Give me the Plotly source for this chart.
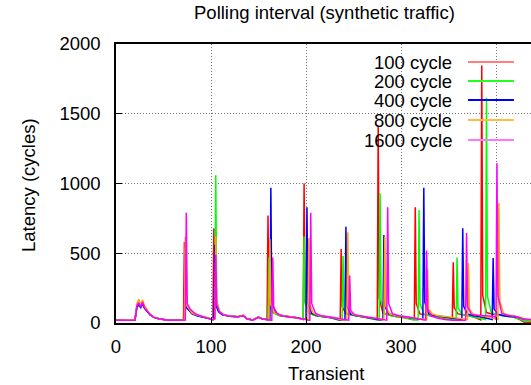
import plotly.graph_objects as go

# ---------------- data ----------------
series_names = ["100 cycle", "200 cycle", "400 cycle", "800 cycle", "1600 cycle"]

hump_x = [0, 20, 22, 24, 26, 28, 30, 33, 36, 40, 45, 55]

red_x = (hump_x
         + [70, 71, 72, 73, 76, 80, 86, 92, 98]
         + [102, 103, 104, 108, 112, 120, 128, 134, 138, 144, 150, 154, 157]
         + [159, 160, 161, 165, 172, 180, 188, 194]
         + [197, 198, 199, 203, 210, 218, 226, 233]
         + [236, 237, 238, 242, 250, 258, 266, 273]
         + [275, 276, 277, 281, 288, 296, 304, 312]
         + [314, 315, 316, 320, 328, 336, 344, 352]
         + [354, 355, 356, 360, 368, 376, 382]
         + [384, 385, 386, 390, 398, 406, 414, 420, 425, 430, 437])
red_y = ([20, 22, 120, 140, 115, 145, 110, 85, 60, 40, 30, 20]
         + [20, 22, 580, 130, 100, 70, 55, 45, 32]
         + [25, 680, 150, 85, 60, 50, 45, 55, 30, 22, 40, 30, 25]
         + [25, 770, 150, 75, 55, 48, 42, 32]
         + [25, 1000, 160, 70, 55, 45, 40, 25]
         + [22, 530, 120, 65, 55, 45, 38, 25]
         + [25, 1415, 180, 70, 55, 45, 38, 25]
         + [25, 830, 140, 65, 55, 48, 40, 28]
         + [25, 435, 110, 65, 55, 45, 28]
         + [22, 1845, 200, 75, 60, 55, 48, 40, 25, 5, 5])

green_x = (hump_x
           + [70, 72, 73, 74, 77, 80, 86, 92, 98]
           + [103, 104, 105, 106, 109, 113, 120, 128, 134, 138, 144, 150, 154, 158]
           + [160, 161, 162, 166, 172, 180, 188, 195]
           + [197, 198, 199, 203, 210, 218, 226, 234]
           + [238, 239, 240, 244, 250, 258, 266, 275]
           + [277, 278, 279, 283, 290, 298, 306, 314]
           + [318, 319, 320, 324, 330, 338, 346, 356]
           + [358, 359, 360, 364, 370, 378, 386]
           + [389, 390, 391, 395, 402, 410, 418, 425, 431, 437])
green_y = ([20, 22, 110, 135, 120, 140, 115, 85, 60, 40, 30, 20]
           + [20, 22, 540, 120, 95, 68, 52, 42, 30]
           + [25, 30, 1060, 160, 80, 58, 48, 44, 52, 30, 22, 42, 30, 25]
           + [25, 470, 120, 70, 52, 45, 40, 30]
           + [25, 620, 140, 68, 52, 45, 38, 22]
           + [22, 480, 110, 62, 52, 44, 36, 22]
           + [25, 930, 160, 68, 52, 44, 36, 22]
           + [22, 810, 140, 65, 52, 46, 38, 25]
           + [22, 470, 110, 62, 52, 44, 30]
           + [25, 1615, 190, 75, 58, 50, 42, 28, 10, 12])

blue_x = (hump_x
          + [70, 72, 73, 74, 77, 80, 86, 92, 98]
          + [102, 103, 104, 105, 108, 112, 120, 128, 134, 138, 144, 150, 154, 159]
          + [162, 163, 164, 168, 174, 182, 190, 196]
          + [200, 201, 202, 206, 212, 220, 228, 236]
          + [241, 242, 243, 247, 253, 261, 269, 278]
          + [281, 282, 283, 287, 294, 302, 310, 318]
          + [323, 324, 325, 329, 335, 343, 351, 359]
          + [364, 365, 366, 370, 376, 384, 392]
          + [396, 397, 398, 402, 408, 416, 424, 430, 437])
blue_y = ([20, 22, 115, 130, 110, 135, 105, 80, 58, 40, 30, 20]
          + [20, 22, 500, 110, 90, 65, 50, 40, 30]
          + [25, 30, 560, 130, 80, 58, 48, 44, 52, 30, 22, 42, 30, 25]
          + [25, 970, 150, 72, 52, 44, 38, 28]
          + [25, 830, 140, 68, 52, 44, 36, 22]
          + [22, 690, 120, 64, 52, 44, 36, 22]
          + [25, 630, 120, 66, 52, 44, 36, 28]
          + [25, 970, 150, 66, 54, 46, 40, 30]
          + [25, 680, 120, 64, 52, 44, 34]
          + [25, 465, 100, 62, 52, 46, 40, 25, 20])

orange_x = (hump_x
            + [70, 72, 73, 74, 77, 80, 86, 92, 98]
            + [103, 104, 105, 106, 109, 113, 120, 128, 134, 138, 144, 150, 154, 159]
            + [161, 162, 163, 167, 173, 181, 189, 196]
            + [202, 203, 204, 208, 214, 222, 230, 238]
            + [243, 244, 245, 249, 255, 263, 271, 281]
            + [282, 283, 284, 288, 295, 303, 311, 326]
            + [327, 328, 329, 333, 339, 347, 355, 369]
            + [370, 371, 372, 376, 382, 390, 400]
            + [402, 403, 404, 408, 414, 420, 426, 432, 437])
orange_y = ([20, 25, 140, 170, 130, 165, 125, 90, 62, 42, 30, 20]
            + [20, 22, 620, 130, 100, 70, 55, 45, 32]
            + [25, 30, 620, 150, 85, 60, 50, 45, 55, 30, 22, 42, 30, 25]
            + [25, 600, 130, 72, 55, 46, 40, 28]
            + [25, 610, 130, 68, 52, 44, 36, 22]
            + [22, 650, 120, 64, 52, 44, 36, 22]
            + [25, 620, 120, 66, 52, 44, 36, 25]
            + [25, 385, 100, 64, 52, 46, 40, 25]
            + [25, 430, 100, 62, 52, 44, 28]
            + [25, 860, 160, 68, 55, 48, 40, 25, 20])

magenta_x = (hump_x
             + [70, 73, 74, 75, 78, 82, 86, 92, 98]
             + [102, 104, 105, 106, 109, 113, 120, 128, 134, 138, 144, 150, 154, 163]
             + [164, 165, 166, 170, 176, 184, 192, 203]
             + [204, 205, 206, 210, 216, 224, 232, 244]
             + [245, 246, 247, 251, 257, 265, 273, 284]
             + [285, 286, 287, 291, 298, 306, 314, 325]
             + [326, 327, 328, 332, 338, 346, 354, 367]
             + [368, 369, 370, 374, 380, 390, 399]
             + [400, 401, 402, 406, 412, 420, 428, 437])
magenta_y = ([20, 22, 125, 145, 115, 150, 110, 85, 60, 40, 30, 20]
             + [20, 22, 790, 140, 100, 75, 58, 45, 32]
             + [22, 30, 490, 130, 80, 58, 48, 44, 54, 28, 20, 40, 28, 20]
             + [20, 470, 110, 65, 50, 42, 36, 20]
             + [20, 790, 140, 68, 52, 44, 36, 20]
             + [20, 340, 90, 60, 50, 42, 35, 20]
             + [20, 830, 140, 66, 52, 44, 36, 20]
             + [20, 520, 100, 50, 35, 25, 20, 20]
             + [20, 645, 120, 62, 55, 52, 45]
             + [25, 1145, 200, 70, 55, 48, 30, 25])

x_ticks = [0, 100, 200, 300, 400]
y_ticks = [0, 500, 1000, 1500, 2000]

line_colors = ["#ff0000", "#00ff00", "#0000ff", "#ffa500", "#ff00ff"]
legend_colors = ["#ff7f7f", "#22ff22", "#0000ff", "#ffbb44", "#ff77ff"]

xs = [red_x, green_x, blue_x, orange_x, magenta_x]
ys = [red_y, green_y, blue_y, orange_y, magenta_y]
for a, b in zip(xs, ys):
    assert len(a) == len(b), (len(a), len(b))

# ---------------- figure ----------------
W, H = 531, 385
L, R, T, B = 116, 0, 44, 62
PW, PH = W - L - R, H - T - B

def px_x(p):
    return (p - L) / PW

def px_y(p):
    return (H - B - p) / PH

FONT = "Liberation Sans, Arial, sans-serif"

fig = go.Figure()
for name, x, y, c in zip(series_names, xs, ys, line_colors):
    fig.add_trace(go.Scatter(x=x, y=y, mode="lines", name=name,
                             line=dict(color=c, width=1.5), showlegend=False))

fig.update_layout(
    width=W, height=H,
    margin=dict(l=L, r=R, t=T, b=B, pad=0),
    paper_bgcolor="white", plot_bgcolor="white",
    font=dict(family=FONT, size=18.5, color="black"),
    showlegend=False,
)
fig.update_xaxes(range=[0, PW / 0.95], tickvals=x_ticks, ticks="inside", ticklen=6,
                 tickcolor="black", showline=True, mirror=True, linecolor="black",
                 linewidth=1.5, showgrid=True, gridcolor="#777777", gridwidth=1,
                 griddash="1px,2px", zeroline=False, ticklabelstandoff=6,
                 tickfont=dict(size=18.5, family=FONT))
fig.update_yaxes(range=[0, 2000], tickvals=y_ticks, ticks="inside", ticklen=6,
                 tickcolor="black", showline=True, mirror=False, linecolor="black",
                 linewidth=1.5, showgrid=True, gridcolor="#777777", gridwidth=1,
                 griddash="1px,2px", zeroline=False, ticklabelstandoff=10,
                 tickfont=dict(size=18.5, family=FONT))

# legend background (hides the grid, under the data)
fig.add_shape(type="rect", xref="paper", yref="paper",
              x0=px_x(337), x1=px_x(525), y0=px_y(152), y1=px_y(53),
              fillcolor="white", line=dict(width=0), layer="between")

annotations = [
    dict(text="Polling interval (synthetic traffic)", x=px_x(324), y=px_y(13),
         xanchor="center", yanchor="middle"),
    dict(text="Transient", x=px_x(326), y=px_y(373), xanchor="center", yanchor="middle"),
    dict(text="Latency (cycles)", x=px_x(28), y=px_y(185), xanchor="center",
         yanchor="middle", textangle=-90),
]
row_y = [62, 81, 100, 120, 140]
for name, c, ry in zip(series_names, legend_colors, row_y):
    annotations.append(dict(text=name, x=px_x(454), y=px_y(ry), xanchor="right",
                            yanchor="middle"))
    fig.add_shape(type="line", xref="paper", yref="paper",
                  x0=px_x(468), x1=px_x(514), y0=px_y(ry), y1=px_y(ry),
                  line=dict(color=c, width=2), layer="above")
for a in annotations:
    a.update(xref="paper", yref="paper", showarrow=False,
             font=dict(family=FONT, size=18.5, color="black"))
fig.update_layout(annotations=annotations)

fig.write_html("out.html")
